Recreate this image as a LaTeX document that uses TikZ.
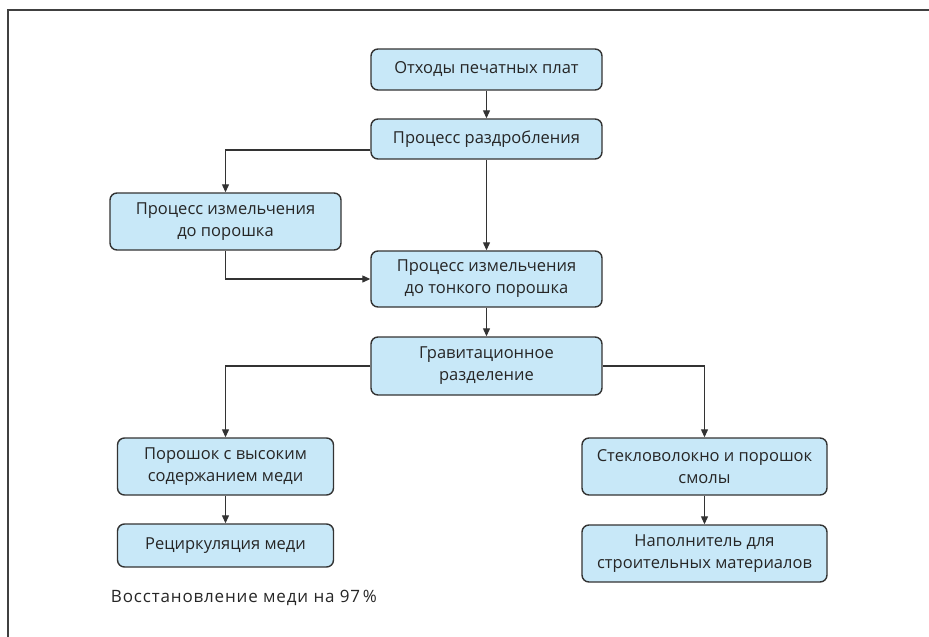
\documentclass[tikz,border=0pt]{standalone}
\usepackage{fontspec}
\setmainfont{Open Sans}
\newfontfamily\notefont[LetterSpace=5]{Open Sans}
\usepackage{tikz}
\usetikzlibrary{positioning,arrows.meta}
\definecolor{boxblue}{HTML}{C8E8F8}
\definecolor{boxline}{HTML}{333333}

\begin{document}
\begin{tikzpicture}[->,>={Triangle[length=8pt,width=7pt]},auto,
  line width=1.2pt,draw=boxline,
  proc node/.style={rectangle,rounded corners=7pt,fill=boxblue,draw=boxline,
    line width=1.4pt,align=center,inner sep=2pt,
    font=\fontsize{16.5}{22}\selectfont,text=black!85},
  wide node/.style={proc node,minimum width=231pt},
  side node/.style={proc node,minimum width=216pt},
  far node/.style={proc node,minimum width=245pt}]

  \useasboundingbox (0,0) rectangle (929pt,-637pt);
  \draw[-,line width=1.4pt,draw=black!75] (8pt,-640pt) -- (8pt,-10pt) -- (935pt,-10pt);

  % central column
  \node[wide node,minimum height=41pt] (waste) at (486.5pt,-69.5pt) {Отходы печатных плат};
  \node[wide node,minimum height=40pt] (crush) [below of=waste,node distance=69.5pt] {Процесс раздробления};
  \node[wide node,minimum height=56pt] (fine) [below of=crush,node distance=140pt] {Процесс измельчения\\до тонкого порошка};
  \node[wide node,minimum height=58pt] (grav) [below of=fine,node distance=87pt] {Гравитационное\\разделение};

  \node[wide node,minimum height=57pt] (grind) [below of=crush,node distance=82.5pt,xshift=-261pt] {Процесс измельчения\\до порошка};

  % branches
  \node[side node,minimum height=57pt] (copper) [below of=grav,node distance=100.5pt,xshift=-261pt] {Порошок с высоким\\содержанием меди};
  \node[side node,minimum height=43pt] (recycle) [below of=copper,node distance=79pt] {Рециркуляция меди};

  \node[far node,minimum height=57pt] (glass) [below of=grav,node distance=100.5pt,xshift=218pt] {Стекловолокно и порошок\\смолы};
  \node[far node,minimum height=57pt] (filler) [below of=glass,node distance=87pt] {Наполнитель для\\строительных материалов};

  \node[font=\notefont\fontsize{17}{22}\selectfont,text=black!85,anchor=west] (note) at (107pt,-598pt) {Восстановление меди на 97\,\%};

  \path[->]
    (waste) edge (crush)
    (crush) edge (fine)
    (fine) edge (grav)
    (copper) edge (recycle)
    (glass) edge (filler);

  \draw ([yshift=-11pt]crush.west) -| (grind.north);
  \draw (grind.south) |- (fine.west);
  \draw (grav.west) -| (copper.north);
  \draw (grav.east) -| (glass.north);

\end{tikzpicture}
\end{document}
